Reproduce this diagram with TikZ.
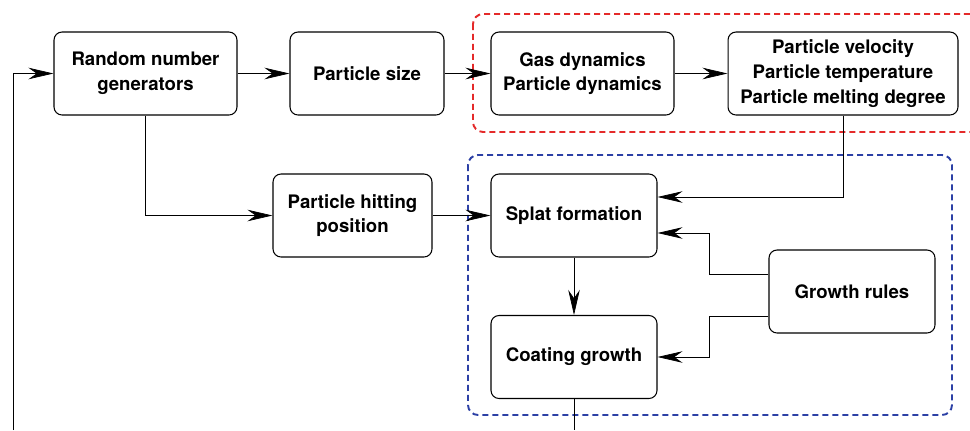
\documentclass[tikz,border=0pt]{standalone}
\usepackage{fontspec}
\setmainfont{TeX Gyre Heros}
\usetikzlibrary{arrows.meta}
\tikzset{>={Stealth[length=5mm,width=2.3mm]}}
\tikzset{blk/.style={draw, line width=0.6pt, rounded corners=1.6mm, align=center,
  font=\bfseries\fontsize{10.6}{14}\selectfont},
  grp/.style={line width=1.1pt, rounded corners=2mm, dash pattern=on 1.2mm off 0.8mm}}
\definecolor{grpred}{RGB}{228,42,42}
\definecolor{grpblue}{RGB}{44,64,165}

\begin{document}
\begin{tikzpicture}[x=0.02cm,y=-0.02cm]
\useasboundingbox (0,0) rectangle (970,430);
% groups
\draw[grp, grpred] (473,14) rectangle (990,132);
\draw[grp, grpblue] (468,155) rectangle (952,415);
% top row
\node[blk, minimum width=3.66cm, minimum height=1.66cm] (rng) at (145.5,73.5) {Random number\\generators};
\node[blk, minimum width=3.08cm, minimum height=1.66cm] (size) at (367,73.5) {Particle size};
\node[blk, minimum width=3.66cm, minimum height=1.66cm] (gas) at (582.5,73.5) {Gas dynamics\\Particle dynamics};
\node[blk, minimum width=4.6cm, minimum height=1.66cm] (vel) at (843,73.5) {Particle velocity\\Particle temperature\\Particle melting degree};
% lower part
\node[blk, minimum width=3.18cm, minimum height=1.66cm] (hit) at (352.5,215.5) {Particle hitting\\position};
\node[blk, minimum width=3.32cm, minimum height=1.66cm] (splat) at (574,215.5) {Splat formation};
\node[blk, minimum width=3.32cm, minimum height=1.66cm] (coat) at (574,357) {Coating growth};
\node[blk, minimum width=3.32cm, minimum height=1.66cm] (rules) at (852,291.5) {Growth rules};
\coordinate (loopin) at (13,430);
\coordinate (loopout) at (574,430);
% connectors
\draw[->] (rng) -- (size);
\draw[->] (size) -- (gas);
\draw[->] (gas) -- (vel);
\draw[->] (rng.south) |- (hit.west);
\draw[->] (hit) -- (splat);
\draw[->] (vel.south) |- ([yshift=0.37cm]splat.east);
\draw[->] ([yshift=0.35cm]rules.west) -- ++(-59,0) |- ([yshift=-0.35cm]splat.east);
\draw[->] ([yshift=-0.49cm]rules.west) -- ++(-59,0) |- (coat.east);
\draw[->] (splat) -- (coat);
\draw (coat) -- (loopout);
\draw[->] (loopin) |- (rng.west);
\end{tikzpicture}
\end{document}
